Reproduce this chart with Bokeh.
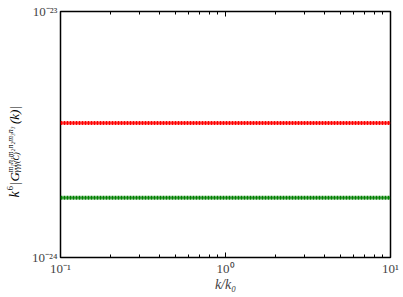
import math
from bokeh.plotting import figure
from bokeh.models import LogAxis, FixedTicker, Range1d, Label
from bokeh.layouts import row
from bokeh.embed import file_html
from bokeh.resources import INLINE

k_over_k0 = [0.1, 10.0]
red_series = [3.52e-24, 3.52e-24]
green_series = [1.75e-24, 1.75e-24]
x_major = [0.1, 1, 10]
x_tick_labels = {0.1: "10⁻¹", 1: "10⁰", 10: "10¹"}
y_major = [1e-24, 1e-23]
y_tick_labels = {1e-24: "10⁻²⁴", 1e-23: "10⁻²³"}

FONT = "Liberation Serif"
X0, X1 = 0.1, 10.0
Y0, Y1 = 1e-24, 1e-23
H = 295
LW = 24          # width of the strip holding the y-axis title
TOP, BOTTOM = 11, 38
FRAME_TOP, FRAME_BOTTOM = TOP, H - BOTTOM

x_minor = [m * d for d in (0.1, 1.0) for m in range(2, 10)]

p = figure(width=36 + 330 + 10, height=H, x_axis_type="log", y_axis_type="log",
           x_range=Range1d(X0, X1), y_range=Range1d(Y0, Y1),
           output_backend="svg", toolbar_location=None,
           min_border_left=36, min_border_right=10, min_border_top=TOP, min_border_bottom=BOTTOM)
p.background_fill_color = "white"
p.border_fill_color = "white"
p.outline_line_color = "black"
p.outline_line_width = 1.5
p.grid.visible = False

for ys, col in ((red_series, "red"), (green_series, "green")):
    p.line(k_over_k0, ys, line_color=col, line_width=2, line_alpha=0.6)
    p.line(k_over_k0, ys, line_color=col, line_width=4, line_dash="2 1")

xa = p.xaxis[0]
xa.ticker = FixedTicker(ticks=x_major, minor_ticks=x_minor)
xa.major_label_overrides = x_tick_labels
xa.major_tick_in = 5
xa.major_tick_out = 0
xa.minor_tick_in = 3
xa.minor_tick_out = 0
xa.axis_line_color = None
xa.major_label_text_font = FONT
xa.major_label_text_font_size = "13px"
xa.major_label_standoff = 3
xa.axis_label = "k/k₀"
xa.axis_label_text_font = FONT
xa.axis_label_text_font_style = "italic"
xa.axis_label_text_font_size = "14px"
xa.axis_label_standoff = -2

top = LogAxis(ticker=FixedTicker(ticks=x_major, minor_ticks=x_minor),
              major_tick_in=5, major_tick_out=0, minor_tick_in=3, minor_tick_out=0,
              axis_line_color=None, major_label_standoff=0,
              major_label_text_font_size="1px", major_label_text_color=None)
p.add_layout(top, "above")

ya = p.yaxis[0]
ya.ticker = FixedTicker(ticks=y_major, minor_ticks=[])
ya.major_label_overrides = y_tick_labels
ya.major_tick_in = 0
ya.major_tick_out = 0
ya.minor_tick_in = 0
ya.minor_tick_out = 0
ya.axis_line_color = None
ya.major_label_text_font = FONT
ya.major_label_text_font_size = "13px"
ya.major_label_standoff = 3

# strip to the left carrying the composed y-axis title; its frame is aligned with
# the main frame, so its y range runs in page pixels from frame bottom to frame top
t = figure(width=LW, height=H, x_range=Range1d(0, LW),
           y_range=Range1d(FRAME_BOTTOM, FRAME_TOP),
           x_axis_location=None, y_axis_location=None,
           output_backend="svg", toolbar_location=None,
           min_border_left=0, min_border_right=0, min_border_top=TOP, min_border_bottom=BOTTOM)
t.grid.visible = False
t.outline_line_color = None
t.background_fill_color = "white"
t.border_fill_color = "white"

def lab(text, sy, sx, size, style="italic"):
    t.add_layout(Label(x=sx, y=sy, text=text, angle=math.pi / 2,
                       text_font=FONT, text_font_size=size, text_font_style=style,
                       text_align="left", text_baseline="alphabetic", text_color="black"))

lab("k", 197, 13.5, "14px")
lab("6", 190, 9.5, "9px", "normal")
lab("|", 184.5, 13.5, "13px", "normal")
lab("G", 181, 13.5, "13px")
lab("m₁n₁m₂n₂m₃n₃", 172, 9.5, "8px")
lab("γγγ(C)", 172, 16, "8px")
lab("(k)|", 123.5, 13.5, "13px")

layout = row(t, p)
layout.spacing = 0
open("out.html", "w").write(file_html(layout, INLINE))
